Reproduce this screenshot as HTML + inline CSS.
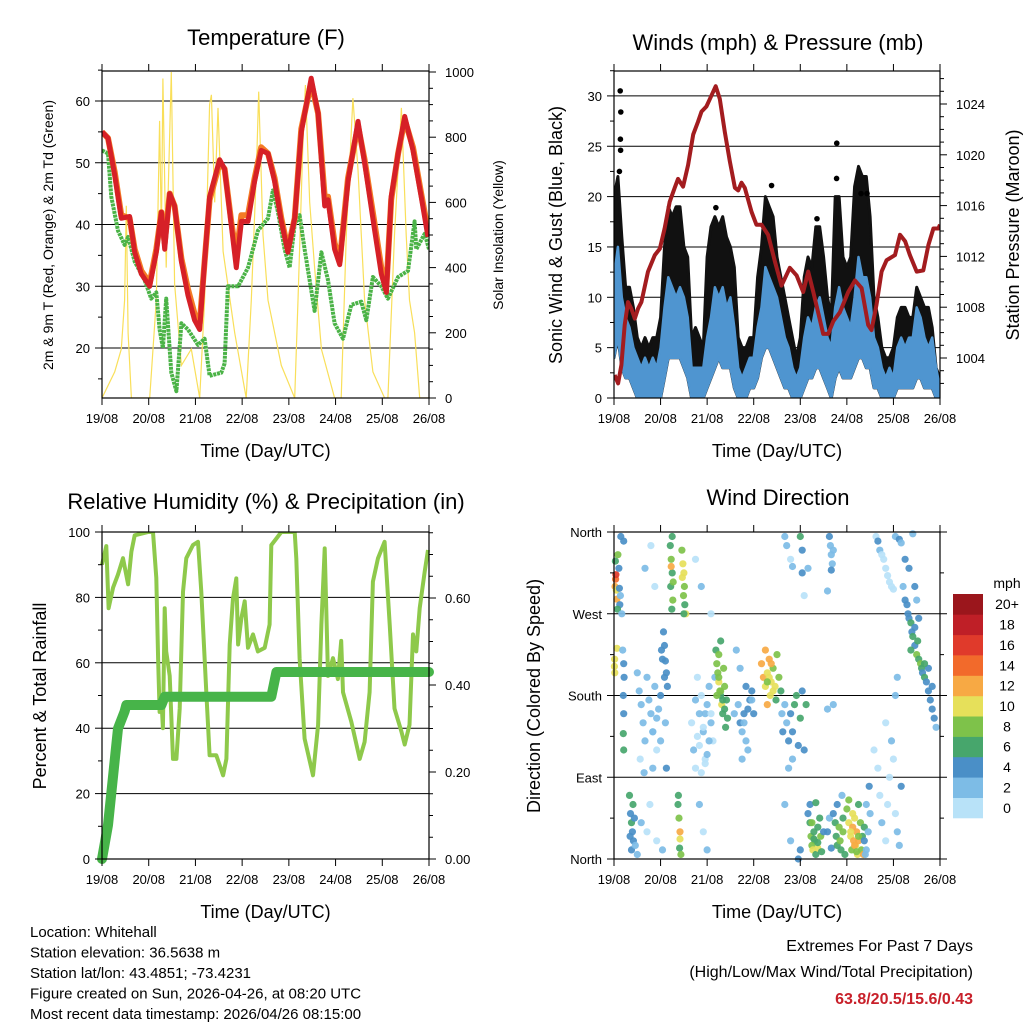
<!DOCTYPE html>
<html><head><meta charset="utf-8"><style>
html,body{margin:0;padding:0;background:#fff;}
svg{display:block;font-family:"Liberation Sans",Arial,sans-serif;}
</style></head><body>
<svg id="chart" width="1024" height="1024" viewBox="0 0 1024 1024" xmlns="http://www.w3.org/2000/svg"></svg>
<script>
// ---------- DATA ----------
const dayLabels = ["19/08","20/08","21/08","22/08","23/08","24/08","25/08","26/08"];
const tempHours = [0,3.1,6.5,9.9,14.2,16.8,20.2,24.5,27.9,30.5,32.2,34.8,37.3,40.8,44.2,47.6,50.2,52.7,55.3,60.4,63,66.4,69,71.6,75,78.4,81.8,85.3,88.7,92.1,95.5,99,102.4,107.5,111,114.4,116.1,119.5,122.1,126.4,131.5,134.9,140.1,143.5,146.1,148.6,152.1,155.5,159.8,164,167.5];
const temp2m = [55,54,48,41,41.3,35.5,32,30,35.5,42,36,45,43,34,28.5,24.5,23,34,44.5,50.5,49,40,33,40.5,40.5,47,52,51.5,47,40.5,35.5,41,55,63.7,58,43,44,36,33.5,47,56.7,50,39,32,29,44.5,51.5,57.5,52,44.5,38];
const temp9m = [55,54,48.5,41.5,41,36,32.5,30.5,36,42,37,45,43,34.5,29.5,25.5,24,34,44,50,49,40.5,35,41.5,41.5,47.5,52.5,51.5,47.5,41,36,41,55.5,63,58,44.5,44.5,37,34,47.5,56,50.5,40,33,30,44,51.5,57,52.5,45,39];
const dewHours = [0,3.1,4.8,8.2,11.6,13.4,16.8,21.9,25.3,27.9,29.6,31.3,33,35.6,38.2,40.8,44.2,49.3,52.7,55.3,61.3,63,64.7,69.9,75,80.1,85.3,87.8,90.4,93.8,96.4,99,101.5,104.1,109.2,112.7,116.1,119.5,123.8,128.1,133.2,135.8,139.2,143.5,146.9,152.1,157.2,160.6,161.5,165.8,168];
const dewpoint = [52,51.5,44.5,39,36.7,38,34,31,28,29,23,20,28,16,13,24,23,20.5,21.5,15.5,16,17.5,30,30,33,39,41,45.5,42,36,33,40,41.5,36,26,35.5,31,24,21.5,27,27.5,24.5,31.5,30,28,31.5,32.5,40.5,36,38.5,36];
const solarHours = [0,6.5,9.9,11.6,12.5,13.4,15.1,24.5,27.9,29.6,30.5,31.3,33,35.6,37.3,40.8,45.9,50.2,52.7,55.3,56.2,57.9,59.6,62.2,68.2,74.1,76.7,79.3,80.5,82.7,85.3,92.1,99,100.7,103.3,104.5,106.7,109.2,112.7,119.5,122.9,125.5,128.9,131.5,134.9,139.2,145.2,146.9,150.3,153.8,156.3,158,160.6,163.2,168];
const solar = [0,80,150,300,590,200,0,0,300,850,500,980,400,1000,350,100,150,0,300,900,930,600,890,450,200,0,300,700,940,500,300,100,0,300,800,960,600,400,150,0,0,500,920,700,300,80,0,0,500,890,500,300,200,0,0];
const windHours = [0,2,4,6,8,10,12,14,16,18,20,22,24,26,28,30,32,34,36,38,40,42,44,46,48,50,52,54,56,58,60,62,64,66,68,70,72,74,76,78,80,82,84,86,88,90,92,94,96,98,100,102,104,106,108,110,112,114,116,118,120,122,124,126,128,130,132,134,136,138,140,142,144,146,148,150,152,154,156,158,160,162,164,166,168];
const windHi = [12,15,10,8,7,5,4,3,4,3,4,3,5,9,12,11,10,11,10,8,3,3,3,3,6,8,11,10,11,9,10,7,3,2,3,4,4,7,9,13,12,11,10,8,6,5,3,2,3,6,8,7,9,10,8,6,5,9,11,9,8,7,10,14,12,12,10,6,5,3,2,3,2,5,6,5,6,6,9,8,6,5,6,3,1];
const windLo = [4,6,3,2,2,1,0,0,0,0,0,0,0,2,4,4,4,4,3,2,0,0,0,0,1,2,3,4,3,3,3,1,0,0,0,1,1,2,4,5,5,4,3,2,1,1,0,0,0,1,2,2,3,3,2,1,0,2,3,2,2,2,3,4,4,3,3,1,1,0,0,0,0,1,1,1,1,1,2,2,1,1,1,0,0];
const gustHi = [20,22,16,11,11,9,6,5,6,5,6,6,8,15,19,18,19,19,15,14,6,7,6,5,14,17,18,17,18,16,15,13,6,5,5,6,6,12,15,20,19,18,14,12,10,8,6,4,6,12,14,13,17,17,14,10,8,20,20,14,13,14,21,23,22,22,18,10,8,5,4,4,5,8,9,9,8,8,11,10,9,9,7,3,2];
const gustSpikeHours = [2.8,3.2,3.3,3.4,3.5,52.5,114.7,114.8,127.3,130.4,81.2,104.6];
const gustSpikes = [22.5,30.5,25.7,24.6,28.4,18.9,21.8,25.3,20.3,20.3,21.1,17.8];
const pressHours = [0.3,2.1,3.8,5.5,7.2,8.9,10.7,12.4,14.1,17.5,21,23.6,26.1,28.7,31.3,33,35.6,38.2,40.8,43.3,45.1,47.6,49.4,52.4,54.5,57.1,59.7,62.3,64,65.7,67.4,70.9,73.4,76,79.4,82.9,86.3,90.6,94.1,97.5,100.1,102.7,105.2,107.8,110.4,113,116.4,120.7,124.2,127.6,131,132.7,135.3,137.9,140.5,144.8,147.4,150,152.5,156,159.4,162,164.6,167.2,168];
const pressure = [1002.66,1002.0,1003.45,1006.6,1008.4,1007.9,1007.1,1007.9,1008.4,1010.8,1012.1,1012.6,1014.2,1016.3,1017.4,1018.1,1017.5,1019.2,1021.6,1022.6,1023.4,1023.8,1024.4,1025.4,1024.4,1021.8,1019.5,1017.4,1017.2,1017.8,1017.4,1015.5,1014.5,1014.5,1013.7,1011.6,1009.7,1011.1,1010.5,1009.2,1010.8,1009.2,1007.6,1005.9,1005.9,1006.9,1007.6,1009.2,1010.1,1009.5,1006.6,1006.2,1008.2,1010.8,1011.7,1012.1,1013.7,1013.2,1012.1,1010.8,1010.9,1012.9,1014.2,1014.2,1014.5];
const rhHours = [0,2.2,3.4,5.7,8.2,10.8,13.4,15.1,16.8,23.6,26.2,27.9,28.8,29.6,30.5,31.3,32.2,33,34.8,36.5,38.2,39.9,41.6,43.3,46.7,49.3,51,53.6,55.3,58.7,62.2,63.9,65.6,67.3,69,69.9,71.6,73.3,75,77.6,80.1,83.6,86.1,87,89.6,92.1,99,99.8,101.5,104.1,108.4,111,112.7,114.4,116.1,118.7,121.2,122.9,123.8,128.1,132.4,134.9,137.5,139.2,141.8,145.2,147.8,150.3,153.8,155.5,158,159.8,161.5,163.2,165.8,167.5];
const rh = [90,95.7,76.7,83,87,92,84,94,99,100,100,86,61.4,45,49,40,76.7,63.5,56,30.6,30.6,46,81.7,92,96,97,81.7,51,31.7,31.7,25.6,30.6,65.6,79.7,85.8,65.6,73.7,78.8,64.6,68.7,63.5,64.6,71.7,96,98,100,100,92,61.4,36.8,25.6,41,71.7,95,56,61.4,55,66.7,51,42,30.6,35.8,51,84.8,92,97,71.7,46,39,35,41,68.7,63.5,76.7,87.9,94.5];
const precipHours = [0,3.1,8.2,11.6,12.5,30.5,32.2,87,89.6,168];
const precip = [0,0.078,0.30,0.339,0.354,0.354,0.373,0.373,0.43,0.43];
const dirHours = [0.5,0.8,1,1.2,1.5,0.7,2.5,2.8,3,3.3,2,1.8,3.5,5,4,0.2,0.3,0.4,1.5,4.5,5,5.2,5,4.8,5,4.8,
8,8.5,9,9.5,10,9,10.5,11,8.3,12,9.8,
12,13,14,15,16,13.5,15.5,17,18,19,20,21,22,23,24,25,26,26.5,27,24.5,20,18.5,14,17,22,25,19,16,21,
29,29.5,30,29.2,30.3,29.8,30,29.5,30.5,
35,35.5,36,36.3,35.8,36.5,35.2,37,36,
33,33.5,34,34,33.8,34.5,33.2,
26,26.5,27,27.5,25.5,
40,41,42,43,44,45,46,47,48,49,50,51,52,43,45,47,49,44,46,48,42,45,50,
52.5,53,53.5,54,54.5,55,55.5,56,57,56.5,58,58.5,57.5,55,54,53,
64,65,66,67,68,69,70,71,72,66,68,65,63,62,
76,77,78,79,80,80.5,81,82,83,83.5,84,85,86,78,79,
86.5,87,88,89,90,91,92,93,94,95,96,97,99,98,92,90,88,91,95,96,
88,89,91,92,96,97,97,100,98,
100,101,101.5,102,102.5,103,103.5,104,105,105,106,106.5,107,108,101,104,
111,111.5,112,112.5,112,110,113,110,113,110,111,112,
113,114,114.5,115,116,116.5,117,118,118,119,115,117.5,
120,121,122,122.5,123,123.5,124,124.5,125,125.5,126,127,127.5,128,128.5,129,126,121,
129,130,131,132,130,131.5,129.5,
134,136,137,138,140,141,142,143,144,145,146,147,148,146,140,145,
135,136,137,138,139,140,141,142,143,144,145,147,148,150,152,149,
150,151,151.5,152,153,153.5,154,155,156,156.5,157,158,158.5,159,160,161,162,163,164,165,166,164,162,155,153,160,157,155,156,154,
44,46,48,50,42,47,54,55,56,57,80,81,82,79,122,124,126,123,125,103,105,102,67,69,71,20,22,24];
const dirDeg = [300,308,313,296,286,328,320,298,280,290,335,275,355,350,270,212,220,205,232,230,215,200,160,138,120,180,
70,50,40,30,20,10,45,15,25,5,60,
205,185,170,150,130,110,95,200,175,160,140,190,120,165,180,220,200,150,100,230,100,60,40,30,20,10,345,320,300,
345,330,315,300,285,275,355,322,305,
340,325,315,300,290,280,310,270,270,
60,45,30,22,12,5,70,
235,218,205,190,250,
150,120,100,135,160,180,140,110,170,190,150,130,200,200,95,160,130,60,30,10,330,300,270,
230,215,205,195,185,180,170,160,190,210,175,155,145,240,225,180,
170,150,140,160,130,120,175,185,160,110,190,210,230,160,
215,200,190,205,220,180,195,210,190,175,225,200,185,230,170,
160,140,170,150,130,160,140,170,180,125,155,185,170,120,110,100,60,20,0,10,
355,345,330,322,355,340,315,320,290,
50,40,25,15,10,30,20,5,35,12,45,25,8,30,60,62,
355,345,335,325,318,295,340,165,170,30,45,12,
50,40,25,15,35,20,10,30,45,5,60,70,
55,40,25,10,35,20,45,15,30,5,20,40,10,25,5,35,60,65,
20,10,30,50,60,80,5,
120,100,70,40,20,60,90,130,110,50,30,15,80,200,150,180,
355,350,340,335,330,320,312,305,300,297,355,352,348,330,320,300,
285,280,270,265,260,250,245,235,225,240,220,215,210,205,200,195,185,175,165,155,145,190,210,255,230,215,265,300,285,358,
125,145,115,160,175,105,200,185,175,165,200,215,185,195,30,15,25,50,8,22,18,40,150,165,175,140,155,130];
const dirSpeed = [12,14,16,11,12,6,4,5,4,3,8,7,4,4,3,10,11,10,11,3,4,4,4,6,6,4,
6,5,6,4,5,4,4,3,5,3,7,
2,3,2,3,2,1,3,2,3,2,3,2,1,3,4,4,5,3,4,5,2,1,2,1,1,2,1,2,1,
7,8,6,7,8,7,7,13,9,
9,11,10,8,9,7,10,11,7,
7,8,12,11,7,8,6,
5,5,5,5,5,
1,2,1,1,2,1,2,1,2,3,2,1,2,1,1,3,3,2,1,2,1,2,1,
7,9,8,10,8,7,10,7,8,9,6,6,6,7,8,8,
3,4,3,4,3,3,4,4,4,3,4,3,2,2,
12,13,11,10,12,10,11,9,11,7,8,9,6,12,13,
3,4,2,3,4,5,4,6,7,4,6,4,6,4,3,2,2,2,4,4,
2,2,1,3,6,4,4,3,1,
5,7,8,9,10,6,8,6,7,10,6,9,7,5,4,6,
4,3,3,3,4,3,3,2,2,4,3,4,
4,6,7,6,8,9,7,8,6,6,4,3,
8,10,11,9,13,12,10,11,12,10,13,9,8,7,12,6,7,8,
4,3,2,3,2,4,3,
1,1,1,2,1,1,1,2,1,1,3,3,4,2,1,2,
1,5,2,1,1,1,1,1,1,1,2,4,3,4,4,2,
5,4,5,4,6,4,7,5,8,6,7,8,6,5,7,5,4,5,4,4,3,4,4,4,6,6,5,4,2,2,
1,1,2,1,2,1,8,9,7,6,11,12,10,9,11,12,9,10,8,7,6,8,3,4,3,2,3,2];
const speedColors = ["#b8e2f8","#7dbce6","#4a8fc7","#47a66c","#7ec24a","#e6e05a","#f7a944","#f26a2b","#e03a2b","#bf1f27","#9b161c"];
const speedLabels = ["0","2","4","6","8","10","12","14","16","18","20+"];
const extremes = "63.8/20.5/15.6/0.43";

// ---------- HELPERS ----------
const NS = "http://www.w3.org/2000/svg";
const svg = document.getElementById("chart");
function mk(tag, attrs, parent, text){
  const e = document.createElementNS(NS, tag);
  for (const k in attrs) e.setAttribute(k, attrs[k]);
  if (text !== undefined) e.textContent = text;
  (parent || svg).appendChild(e);
  return e;
}
function grp(name){
  const g = mk("g", {});
  
  
  return g;
}
function lbl(g, x, y, s, size, anchor, name, extra){
  const t = mk("text", Object.assign({x:x, y:y, "font-size":size, "text-anchor":anchor||"middle", fill:"#000"}, extra||{}), g, s);
  
  
  return t;
}
function pts(xs, ys, fx, fy){ return xs.map((t,i)=>fx(t).toFixed(1)+","+fy(ys[i]).toFixed(1)).join(" "); }

function timeAxis(g, x0, x1, yb, ytop){
  const fx = t => x0 + t/168*(x1-x0);
  for (let d=0; d<=7; d++){
    const x = fx(d*24);
    mk("line",{x1:x,y1:yb,x2:x,y2:yb+7,stroke:"#000","stroke-width":1},g);
    mk("line",{x1:x,y1:ytop,x2:x,y2:ytop-7,stroke:"#000","stroke-width":1},g);
    lbl(g, x, yb+25, dayLabels[d], 13, "middle", "x-tick-label");
  }
  lbl(g, (x0+x1)/2, yb+59, "Time (Day/UTC)", 18, "middle", "x-axis-title");
}
function frame(g, x0,y0,x1,y1){
  const r = mk("rect",{x:x0,y:y0,width:x1-x0,height:y1-y0,fill:"none",stroke:"#000","stroke-width":1.2},g);
   
}
function leftTicks(g, x0, vals, fy, labels, minor){
  vals.forEach((v,i)=>{ const y=fy(v); mk("line",{x1:x0-7,y1:y,x2:x0,y2:y,stroke:"#000"},g);
    if(labels) lbl(g, x0-12, y+5, labels[i], 13, "end", "y-tick-label"); });
  (minor||[]).forEach(v=>{ const y=fy(v); mk("line",{x1:x0-4,y1:y,x2:x0,y2:y,stroke:"#000"},g); });
}
function rightTicks(g, x1, vals, fy, labels, minor){
  vals.forEach((v,i)=>{ const y=fy(v); mk("line",{x1:x1,y1:y,x2:x1+7,y2:y,stroke:"#000"},g);
    lbl(g, x1+16, y+5, labels[i], 13, "start", "y2-tick-label"); });
  (minor||[]).forEach(v=>{ const y=fy(v); mk("line",{x1:x1,y1:y,x2:x1+4,y2:y,stroke:"#000"},g); });
}
function grid(g, x0,x1, vals, fy){
  vals.forEach(v=>{ const y=fy(v); mk("line",{x1:x0,y1:y,x2:x1,y2:y,stroke:"#000","stroke-width":1},g); });
}
function range(a,b,s){ const r=[]; for(let v=a; v<=b+1e-9; v+=s) r.push(+v.toFixed(4)); return r; }

// ---------- PANEL 1: TEMPERATURE ----------
(function(){
  const g = grp("temperature-panel");
  const x0=102,x1=429,y0=71,y1=398;
  const fx = t => x0 + t/168*(x1-x0);
  const fy = v => 348 - (v-20)*6.175;
  const fs = v => 398 - v*0.326;
  lbl(g, 266, 45, "Temperature (F)", 22, "middle", "chart-title");
  grid(g,x0,x1,[20,30,40,50,60],fy);
  const cp = mk("clipPath",{id:"c1"},g); mk("rect",{x:x0,y:y0,width:x1-x0,height:y1-y0},cp);
  const s = mk("polyline",{points:pts(solarHours,solar,fx,fs),fill:"none",stroke:"#f9df5a","stroke-width":1.2,"clip-path":"url(#c1)"},g);
   
  const d = mk("polyline",{points:pts(dewHours,dewpoint,fx,fy),fill:"none",stroke:"#4bb347","stroke-width":4,"stroke-linejoin":"round","stroke-dasharray":"3 0.8","clip-path":"url(#c1)"},g);
   
  const o = mk("polyline",{points:pts(tempHours,temp9m,fx,fy),fill:"none",stroke:"#f47b25","stroke-width":6,"stroke-linejoin":"round","clip-path":"url(#c1)"},g);
   
  const r = mk("polyline",{points:pts(tempHours,temp2m,fx,fy),fill:"none",stroke:"#d62027","stroke-width":5,"stroke-linejoin":"round","clip-path":"url(#c1)"},g);
   
  frame(g,x0,y0,x1,y1);
  leftTicks(g,x0,[20,30,40,50,60],fy,["20","30","40","50","60"],range(15,65,5).filter(v=>v%10));
  rightTicks(g,x1,[0,200,400,600,800,1000],fs,["0","200","400","600","800","1000"],range(50,950,50).filter(v=>v%200));
  timeAxis(g,x0,x1,y1,y0);
  lbl(g, 0, 0, "2m & 9m T (Red, Orange) & 2m Td (Green)", 14, "middle", "y-axis-title", {transform:"translate(53,235) rotate(-90)"});
  lbl(g, 0, 0, "Solar Insolation (Yellow)", 14, "middle", "y2-axis-title", {transform:"translate(503,235) rotate(-90)"});
})();

// ---------- PANEL 2: WINDS & PRESSURE ----------
(function(){
  const g = grp("winds-pressure-panel");
  const x0=614,x1=940,y0=71,y1=398;
  const fx = t => x0 + t/168*(x1-x0);
  const fy = v => 398 - v*10.07;
  const fp = p => 358 - (p-1004)*12.7;
  lbl(g, 778, 50, "Winds (mph) & Pressure (mb)", 22, "middle", "chart-title");
  grid(g,x0,x1,[5,10,15,20,25,30],fy);
  const cp = mk("clipPath",{id:"c2"},g); mk("rect",{x:x0,y:y0,width:x1-x0,height:y1-y0},cp);
  const upG = windHours.map((t,i)=>fx(t).toFixed(1)+","+fy(gustHi[i]).toFixed(1));
  const upW = windHours.map((t,i)=>fx(t).toFixed(1)+","+fy(windHi[i]).toFixed(1));
  const lo = windHours.map((t,i)=>fx(t).toFixed(1)+","+fy(windLo[i]).toFixed(1)).reverse();
  const gb = mk("polygon",{points:upG.concat(lo).join(" "),fill:"#111",stroke:"#111","stroke-width":3,"stroke-linejoin":"round","clip-path":"url(#c2)"},g);
   
  gustSpikeHours.forEach((t,i)=>{ const c=mk("circle",{cx:fx(t),cy:fy(gustSpikes[i]),r:2.8,fill:"#000"},g);
      });
  const wb = mk("polygon",{points:upW.concat(lo).join(" "),fill:"#4f95d0",stroke:"#4f95d0","stroke-width":2.5,"stroke-linejoin":"round","clip-path":"url(#c2)"},g);
   
  const pl = mk("polyline",{points:pts(pressHours,pressure,fx,fp),fill:"none",stroke:"#a31c1f","stroke-width":4,"stroke-linejoin":"round","clip-path":"url(#c2)"},g);
   
  frame(g,x0,y0,x1,y1);
  leftTicks(g,x0,[0,5,10,15,20,25,30],fy,["0","5","10","15","20","25","30"],range(2.5,32.5,5));
  rightTicks(g,x1,[1004,1008,1012,1016,1020,1024],fp,["1004","1008","1012","1016","1020","1024"],range(1002,1026,1).filter(v=>v%4));
  timeAxis(g,x0,x1,y1,y0);
  lbl(g, 0, 0, "Sonic Wind & Gust (Blue, Black)", 18, "middle", "y-axis-title", {transform:"translate(562,235) rotate(-90)"});
  lbl(g, 0, 0, "Station Pressure (Maroon)", 18, "middle", "y2-axis-title", {transform:"translate(1019,235) rotate(-90)"});
})();

// ---------- PANEL 3: RH & PRECIP ----------
(function(){
  const g = grp("humidity-precip-panel");
  const x0=102,x1=429,y0=532,y1=859;
  const fx = t => x0 + t/168*(x1-x0);
  const fy = v => 859 - v*3.27;
  const fp = v => 859 - v*435;
  lbl(g, 266, 509, "Relative Humidity (%) & Precipitation (in)", 22, "middle", "chart-title");
  grid(g,x0,x1,[20,40,60,80],fy);
  const cp = mk("clipPath",{id:"c3"},g); mk("rect",{x:x0-6,y:y0,width:x1-x0+12,height:y1-y0+6},cp);
  const r = mk("polyline",{points:pts(rhHours,rh,fx,fy),fill:"none",stroke:"#8ec94b","stroke-width":4,"stroke-linejoin":"round","clip-path":"url(#c3)"},g);
   
  const p = mk("polyline",{points:pts(precipHours,precip,fx,fp),fill:"none",stroke:"#47b449","stroke-width":10,"stroke-linejoin":"round","stroke-linecap":"round","clip-path":"url(#c3)"},g);
   
  frame(g,x0,y0,x1,y1);
  leftTicks(g,x0,[0,20,40,60,80,100],fy,["0","20","40","60","80","100"],range(10,90,20));
  rightTicks(g,x1,[0,0.2,0.4,0.6],fp,["0.00","0.20","0.40","0.60"],range(0.05,0.75,0.05).filter(v=>Math.abs(v*5-Math.round(v*5))>0.01));
  timeAxis(g,x0,x1,y1,y0);
  lbl(g, 0, 0, "Percent & Total Rainfall", 18, "middle", "y-axis-title", {transform:"translate(46,696) rotate(-90)"});
})();

// ---------- PANEL 4: WIND DIRECTION ----------
(function(){
  const g = grp("wind-direction-panel");
  const x0=614,x1=940,y0=532,y1=859;
  const fx = t => x0 + t/168*(x1-x0);
  const fy = d => 859 - d*(327/360);
  lbl(g, 778, 505, "Wind Direction", 22, "middle", "chart-title");
  grid(g,x0,x1,[90,180,270],fy);
  dirHours.forEach((t,i)=>{
    const b = Math.min(10, Math.floor(dirSpeed[i]/2));
    const c = mk("circle",{cx:fx(t).toFixed(1),cy:fy(dirDeg[i]).toFixed(1),r:3.6,fill:speedColors[b],opacity:0.92},g);
    
    
  });
  frame(g,x0,y0,x1,y1);
  leftTicks(g,x0,[0,90,180,270,360],fy,["North","East","South","West","North"],range(45,315,90));
  [0,90,180,270,360].forEach(v=>mk("line",{x1:x1,y1:fy(v),x2:x1+7,y2:fy(v),stroke:"#000"},g));
  range(45,315,90).forEach(v=>mk("line",{x1:x1,y1:fy(v),x2:x1+4,y2:fy(v),stroke:"#000"},g));
  timeAxis(g,x0,x1,y1,y0);
  lbl(g, 0, 0, "Direction (Colored By Speed)", 18, "middle", "y-axis-title", {transform:"translate(540,696) rotate(-90)"});
  const cb = grp("speed-colorbar");
  const bh = (818-594)/speedColors.length;
  speedColors.forEach((c,i)=>{
    const y = 818 - (i+1)*bh;
    const r = mk("rect",{x:953,y:y.toFixed(1),width:30,height:(bh+0.3).toFixed(1),fill:c},cb);
     
    lbl(cb, 1007, y+bh/2+5, speedLabels[i], 14, "middle", "colorbar-label");
  });
  lbl(cb, 1007, 588, "mph", 14, "middle", "colorbar-title");
})();

// ---------- FOOTER ----------
(function(){
  const g = grp("station-info");
  const lines = ["Location: Whitehall","Station elevation: 36.5638 m","Station lat/lon: 43.4851; -73.4231","Figure created on Sun, 2026-04-26, at 08:20 UTC","Most recent data timestamp: 2026/04/26 08:15:00"];
  lines.forEach((s,i)=>lbl(g, 30, 937+i*20.5, s, 15, "start", "station-info-line"));
  const e = grp("extremes-summary");
  lbl(e, 973, 951, "Extremes For Past 7 Days", 16, "end", "extremes-heading");
  lbl(e, 973, 977, "(High/Low/Max Wind/Total Precipitation)", 16, "end", "extremes-subheading");
  lbl(e, 973, 1004, extremes, 16, "end", "extremes-values", {fill:"#c8202a","font-weight":"bold"});
})();
</script>
</body></html>
